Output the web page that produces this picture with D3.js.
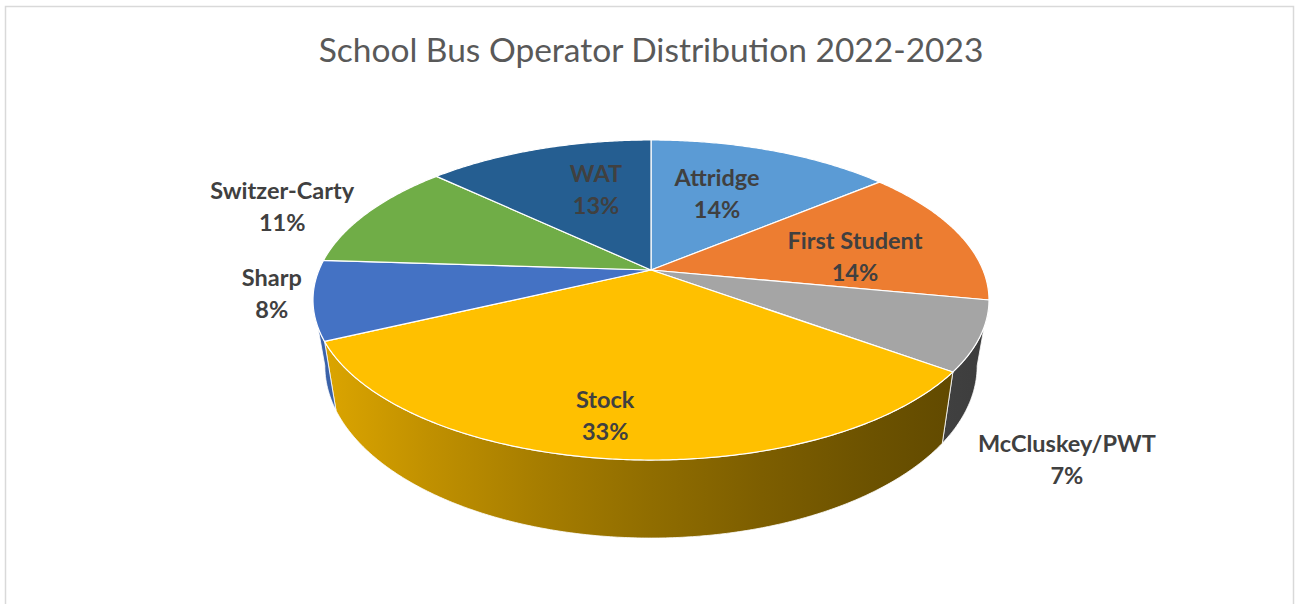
<!DOCTYPE html>
<html>
<head>
<meta charset="utf-8">
<script src="https://cdn.jsdelivr.net/npm/d3@7"></script>
<style>
  body { margin: 0; background: #fff; }
  svg { display: block; }
</style>
</head>
<body>
<svg id="chart" width="1297" height="604"></svg>
<script>
// Chart data
const categories = ["Attridge", "First Student", "McCluskey/PWT", "Stock", "Sharp", "Switzer-Carty", "WAT"];
const shares = [14, 14, 7, 33, 8, 11, 13];
const colors = ["#5B9BD5", "#ED7D31", "#A5A5A5", "#FFC000", "#4472C4", "#70AD47", "#255E91"];
const title = "School Bus Operator Distribution 2022-2023";

// Label placement (radius as a fraction of the pie radius, angle shift in degrees)
const labelLayout = [
    { r: 0.585, shift: -3.2 },
    { r: 0.63, shift: 6.6 },
    { r: 1.427, shift: 21.1 },
    { r: 0.812, shift: 2.9 },
    { r: 1.12, shift: 3 },
    { r: 1.282, shift: -3.2 },
    { r: 0.603, shift: 5.7 }
];

const width = 1297, height = 604;
const svg = d3.select("#chart");

// Perspective projection of the tilted disk
const cx = 651, cy = 270;   // pie centre on screen
const A = 332, B = 154.4;   // horizontal / vertical radius factors
const k = 0.1875;           // perspective strength
const T = 63.4;             // thickness
const q = 0.965;            // bottom rim shrink

function proj(r, th, bottom) {
    const u = r * Math.sin(th), v = r * Math.cos(th);
    const s = 1 / (1 + k * v);
    const dx = A * u * s * (bottom ? q : 1);
    return [cx + dx, cy - B * v * s + (bottom ? T * s : 0)];
}

function arcPoints(a0, a1, bottom) {
    const n = Math.max(2, Math.ceil(Math.abs(a1 - a0) / (Math.PI / 360)));
    return d3.range(n + 1).map(i => proj(1, a0 + (a1 - a0) * i / n, bottom));
}

const line = d3.line();

// Frame
svg.append("rect")
    .attr("x", 5.5).attr("y", 6.5)
    .attr("width", 1288).attr("height", 700)
    .attr("fill", "#fff")
    .attr("stroke", "#d9d9d9")
    .attr("stroke-width", 1.5);

// Title
svg.append("text")
    .attr("x", 651).attr("y", 62)
    .attr("text-anchor", "middle")
    .attr("font-family", "Lato, 'Open Sans', sans-serif")
    .attr("font-size", 33.5)
    .attr("fill", "#595959")
    .text(title);

const data = categories.map((c, i) => ({ name: c, value: shares[i], color: colors[i], layout: labelLayout[i] }));
const arcs = d3.pie().sort(null).value(d => d.value)(data);

// Gradients for side walls (darker towards the right)
const defs = svg.append("defs");
arcs.forEach((a, i) => {
    const g = defs.append("linearGradient")
        .attr("id", "side-" + i)
        .attr("gradientUnits", "userSpaceOnUse")
        .attr("x1", cx - A).attr("x2", cx + A)
        .attr("y1", 0).attr("y2", 0);
    d3.range(7).forEach(j => {
        const t = j / 6;
        g.append("stop")
            .attr("offset", t)
            .attr("stop-color", d3.color(a.data.color).darker(0.4 + 2.4 * t).formatHex());
    });
});

// Side walls (only the front half is visible)
const thR = Math.acos(-k), thL = 2 * Math.PI - thR;
const walls = svg.append("g");
arcs.forEach((a, i) => {
    const s = Math.max(a.startAngle, thR), e = Math.min(a.endAngle, thL);
    if (e <= s) return;
    const pts = arcPoints(s, e, false).concat(arcPoints(e, s, true));
    walls.append("path")
        .attr("d", line(pts) + "Z")
        .attr("fill", `url(#side-${i})`)
        .attr("stroke", "#fff")
        .attr("stroke-opacity", 0.8)
        .attr("stroke-width", 1);
});

// Top faces
const tops = svg.append("g");
arcs.forEach(a => {
    const pts = [[cx, cy]].concat(arcPoints(a.startAngle, a.endAngle, false));
    tops.append("path")
        .attr("d", line(pts) + "Z")
        .attr("fill", a.data.color)
        .attr("stroke", "#fff")
        .attr("stroke-width", 1.2)
        .attr("stroke-linejoin", "round");
});

// Data labels
const labels = svg.append("g")
    .attr("font-family", "Lato, 'Open Sans', sans-serif")
    .attr("font-weight", "bold")
    .attr("font-size", 23.5)
    .attr("fill", "#404040")
    .attr("text-anchor", "middle");

arcs.forEach(a => {
    const mid = (a.startAngle + a.endAngle) / 2 + a.data.layout.shift * Math.PI / 180;
    const [x, y] = proj(a.data.layout.r, mid, false);
    const t = labels.append("text").attr("x", x).attr("y", y);
    t.append("tspan").attr("x", x).attr("dy", -8).text(a.data.name);
    t.append("tspan").attr("x", x).attr("dy", 32).text(d3.format(".0%")(a.data.value / 100));
});
</script>
</body>
</html>
